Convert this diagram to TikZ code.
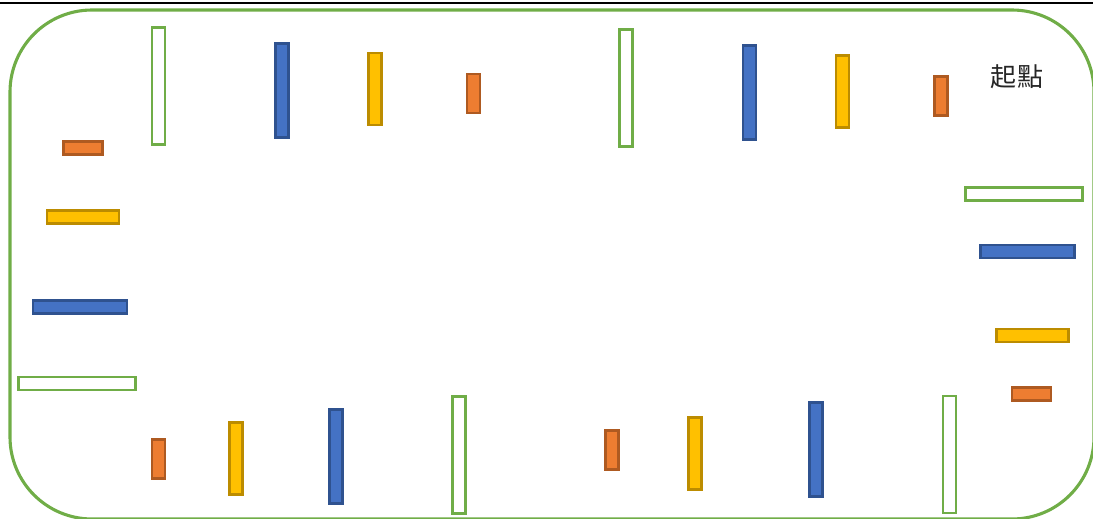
\documentclass[tikz,border=0pt]{standalone}
\usepackage{fontspec}
\newfontfamily\cjkfont{Noto Sans CJK TC}
\definecolor{trackG}{RGB}{112,173,71}
\definecolor{bFill}{RGB}{68,114,196}
\definecolor{bEdge}{RGB}{47,82,143}
\definecolor{oFill}{RGB}{237,125,49}
\definecolor{oEdge}{RGB}{174,90,33}
\definecolor{yFill}{RGB}{255,192,0}
\definecolor{yEdge}{RGB}{188,140,0}

\begin{document}
\begin{tikzpicture}[
  x=0.025cm, y=-0.025cm,
  track/.style={draw=trackG, line width=2.2pt, rounded corners=2.05cm},
  bar/.style={rectangle, line width=1.8pt, inner sep=0pt, minimum width=0.325cm},
  ob/.style={bar, draw=oEdge, fill=oFill, minimum height=0.975cm},
  yb/.style={bar, draw=yEdge, fill=yFill, minimum height=1.8cm},
  bb/.style={bar, draw=bEdge, fill=bFill, minimum height=2.35cm},
  gb/.style={bar, draw=trackG, fill=white, minimum height=2.925cm},
  flat/.style={rotate=90},
  lab/.style={font=\cjkfont\fontsize{18.5}{22}\selectfont, text=black!85, inner sep=0pt}
]
  \useasboundingbox (0,0) rectangle (1093,519);

  % top rule and track outline
  \coordinate (ruleL) at (0,2.8);
  \coordinate (ruleR) at (1093,2.8);
  \draw[line width=1.8pt] (ruleL) -- (ruleR);
  \draw[track] (10,10) rectangle (1094,519);

  % top row
  \node[gb] (g1) at (158.7,85.8) {};
  \node[bb] (b1) at (282,90.5) {};
  \node[yb] (y1) at (374.8,89.2) {};
  \node[ob] (o1) at (473.3,93.3) {};
  \node[gb] (g2) at (626,88.2) {};
  \node[bb] (b2) at (749.5,92.7) {};
  \node[yb] (y2) at (842.5,91.3) {};
  \node[ob] (o2) at (941,96) {};
  \node[lab] (start) at (1017,77) {起點};

  % right column
  \node[gb,flat] (g5) at (1024,193.8) {};
  \node[bb,flat] (b5) at (1027.7,251.5) {};
  \node[yb,flat] (y5) at (1032.3,335.5) {};
  \node[ob,flat] (o5) at (1031.3,394.2) {};

  % bottom row
  \node[gb] (g4) at (949.7,454.5) {};
  \node[bb] (b4) at (816,449.5) {};
  \node[yb] (y4) at (695,453.7) {};
  \node[ob] (o4) at (612,450.2) {};
  \node[gb] (g3) at (459,455.2) {};
  \node[bb] (b3) at (336.2,456.5) {};
  \node[yb] (y3) at (235.8,458.5) {};
  \node[ob] (o3) at (158.7,458.8) {};

  % left column
  \node[gb,flat] (g6) at (77,383.3) {};
  \node[bb,flat] (b6) at (80.2,306.8) {};
  \node[yb,flat] (y6) at (83,216.8) {};
  \node[ob,flat] (o6) at (83,147.8) {};
\end{tikzpicture}
\end{document}
